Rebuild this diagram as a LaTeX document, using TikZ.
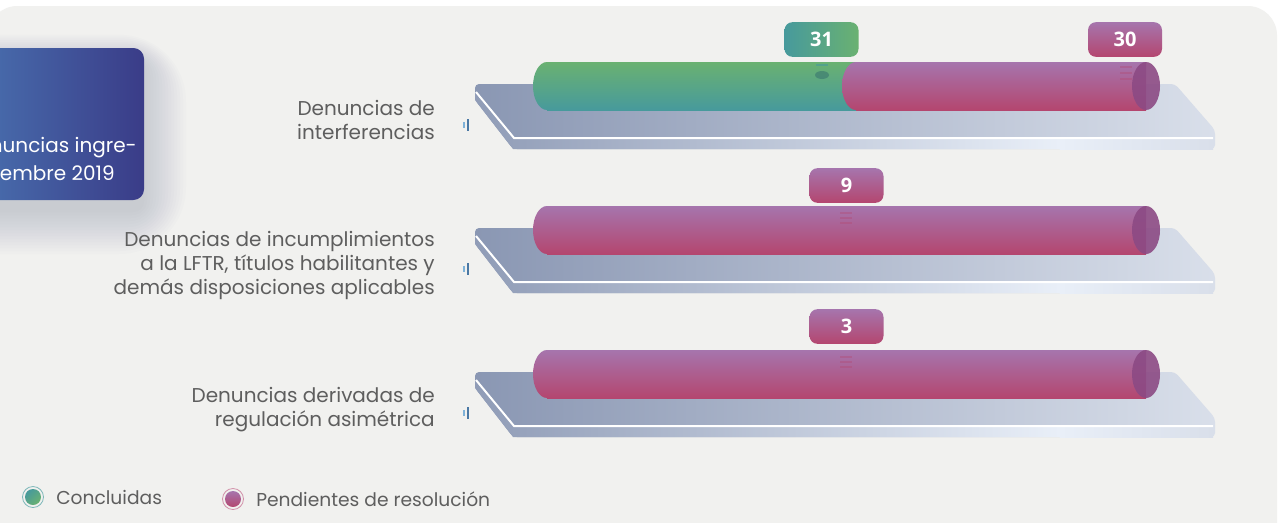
\documentclass[tikz,border=0pt]{standalone}
\usepackage{fontspec}
\setmainfont{Poppins}
\newfontfamily\numfont{Open Sans}
\definecolor{panelbg}{HTML}{F1F1EF}
\definecolor{boxleft}{HTML}{4A74B2}
\definecolor{boxright}{HTML}{3A3C88}
\definecolor{txtgray}{HTML}{5E5E5E}
\definecolor{greentop}{HTML}{6AB171}
\definecolor{greenbot}{HTML}{479A9C}
\definecolor{pinktop}{HTML}{A675AD}
\definecolor{pinkbot}{HTML}{B4466F}
\definecolor{capcol}{HTML}{8C4A84}
\definecolor{slableft}{HTML}{8A97B3}
\definecolor{slabright}{HTML}{D9DFEA}
\definecolor{frontmid}{HTML}{E9EFF8}
\definecolor{tickone}{HTML}{7FB2D8}
\definecolor{ticktwo}{HTML}{4A78A4}
\definecolor{shadowcol}{HTML}{6E7898}
\begin{document}
\begin{tikzpicture}[x=0.75pt,y=0.75pt,yscale=-1,xscale=1,
  cattext/.style={anchor=east,align=right,inner sep=0.75pt,text=txtgray,font=\fontsize{15}{18}\selectfont},
  legtext/.style={anchor=west,inner sep=0.75pt,text=txtgray,font=\fontsize{14}{16}\selectfont},
  numtag/.style={rounded corners=6,minimum width=55.5pt,minimum height=26pt,inner sep=0pt,text=white,font=\fontsize{15}{18}\numfont\bfseries},
  greenbar/.style={top color=greentop,bottom color=greenbot},
  pinkbar/.style={top color=pinktop,bottom color=pinkbot}]
\useasboundingbox (0,0) rectangle (1280,522);
\fill[white] (0,0) rectangle (1280,522);
%Shape: Panel
\fill[panelbg,rounded corners=22] (-12,6) rectangle (1277,580);

%Shape: Shadow of the title box
\foreach \s in {42,39,...,0}
  \fill[shadowcol,opacity=0.018,rounded corners=8+\s] (-40-\s,48-0.6*\s+12) rectangle (144+\s,200+\s+12);
%Shape: Title box
\shade[left color=boxleft,right color=boxright,rounded corners=8] (-40,48) rectangle (144,200);
% Text Node
\draw (137,148) node [anchor=east,inner sep=0pt,text=white,font=\fontsize{15}{18}\selectfont] (ttl1) {nuncias ingre-};
% Text Node
\draw (115,173) node [anchor=east,inner sep=0pt,text=white,font=\fontsize{15}{18}\selectfont] (ttl2) {embre 2019};

%Shape: Slabs
\foreach \o in {0,144,288}{
  \shade[left color=slableft,right color=slabright,rounded corners=3]
    (475,84+\o) -- (1175,84+\o) -- (1215,130+\o) -- (1215,149+\o) -- (513,149+\o) -- (475,100+\o) -- cycle;
  \shade[left color=slableft!95!white,right color=frontmid]
    (475,92+\o) -- (513,138+\o) -- (1060,138+\o) -- (1060,149+\o) -- (513,149+\o) -- (475,100+\o) -- cycle;
  \shade[left color=frontmid,right color=slabright] (1059.5,138+\o) rectangle (1213,149+\o);
  \draw[white,line width=1.5pt] (476,92+\o) -- (514,138+\o) -- (1213,138+\o);
  %Straight Lines: small ticks
  \draw[line width=1.5pt,tickone] (463.5,122+\o) -- (463.5,128+\o);
  \draw[line width=1.5pt,ticktwo] (467.5,119+\o) -- (467.5,131+\o);
}

%Shape: Bar one
\shade[greenbar] (547,86) ellipse (14 and 24);
\shade[greenbar] (547,62) rectangle (858,110);
\shade[pinkbar] (856,86) ellipse (14 and 24);
\shade[pinkbar] (856,62) rectangle (1146,110);
\fill[capcol,opacity=0.9] (1146,86) ellipse (14 and 24);
%Shape: Bar two
\shade[pinkbar] (547,230) ellipse (14 and 24);
\shade[pinkbar] (547,206) rectangle (1146,254);
\fill[capcol,opacity=0.9] (1146,230) ellipse (14 and 24);
%Shape: Bar three
\shade[pinkbar] (547,374) ellipse (14 and 24);
\shade[pinkbar] (547,350) rectangle (1146,398);
\fill[capcol,opacity=0.9] (1146,374) ellipse (14 and 24);

%Shape: faint marks below the tags
\fill[greenbot!70!black,opacity=0.5] (822,75) ellipse (7 and 4);
\fill[greenbot,opacity=0.6] (816,64) rectangle (828,65.5);
\foreach \yy in {66,72,78} \fill[pinkbot,opacity=0.35] (1120,\yy) rectangle (1132,\yy+1.5);
\foreach \o in {0,144}
  \foreach \yy in {212,217,222} \fill[pinkbot,opacity=0.35] (840,\yy+\o) rectangle (852,\yy+\o+1.5);

% Text Node
\draw (821.5,39.5) node [numtag,left color=greenbot,right color=greentop] (n31) {31};
% Text Node
\draw (1125,39.5) node [numtag,top color=pinktop,bottom color=pinkbot] (n30) {30};
% Text Node
\draw (846.5,185.5) node [numtag,top color=pinktop,bottom color=pinkbot] (n9) {9};
% Text Node
\draw (846.5,326.5) node [numtag,top color=pinktop,bottom color=pinkbot] (n3) {3};

% Text Node
\draw (436,120) node [cattext] (cat1) {Denuncias de\\interferencias};
% Text Node
\draw (436,265) node [cattext] (cat2) {Denuncias de incumplimientos\\a la LFTR, títulos habilitantes y\\demás disposiciones aplicables};
% Text Node
\draw (436,410) node [cattext] (cat3) {Denuncias derivadas de\\regulación asimétrica};

%Shape: Legend circles
\draw[greenbot!70!white,line width=0.6pt] (33,497) circle (10.5);
\shade[top color=greenbot,bottom color=greentop,shading angle=45] (33,497) circle (8);
\draw[pinkbot!60!white,line width=0.6pt] (233,499) circle (10.5);
\shade[top color=pinktop,bottom color=pinkbot] (233,499) circle (8);
% Text Node
\draw (55,497) node [legtext] (leg1) {Concluidas};
% Text Node
\draw (255,499) node [legtext] (leg2) {Pendientes de resolución};

\end{tikzpicture}
\end{document}
